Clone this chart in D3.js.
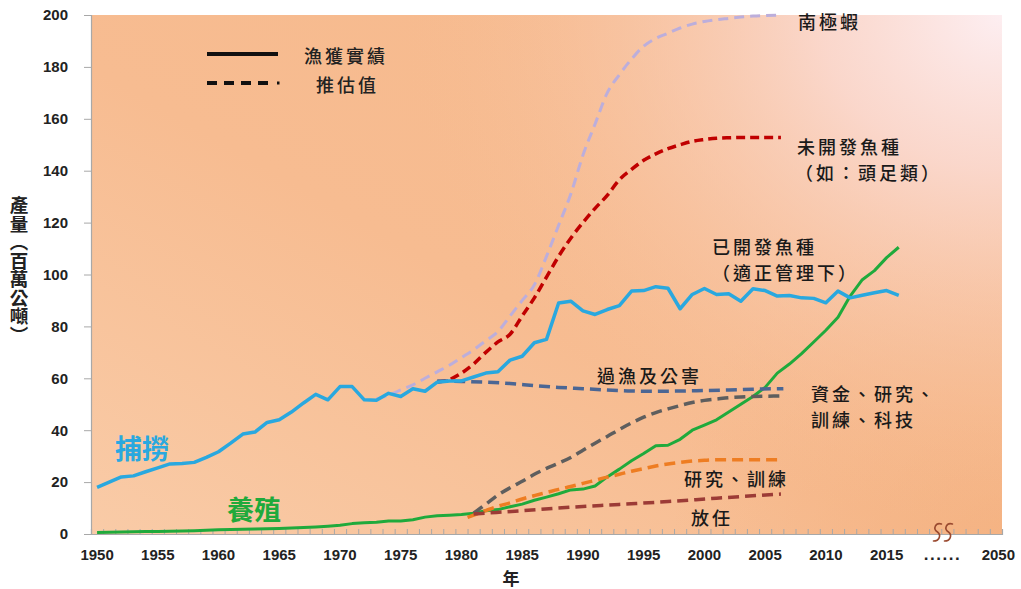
<!DOCTYPE html>
<html><head><meta charset="utf-8">
<script src="https://cdn.jsdelivr.net/npm/d3@7"></script>
<style>
html,body{margin:0;padding:0;background:#fff;}
svg{display:block;}
</style></head>
<body>
<svg id="c" width="1021" height="589"></svg>
<script>
// ---------- data ----------
const years = d3.range(1950, 2017);
const captureVals = [18,20,22,22.4,24,25.5,27,27.2,27.6,29.5,
  31.7,35,38.5,39.3,43,44,47,50.5,53.8,51.7,
  56.8,56.8,51.7,51.5,54.2,53,56,55,58.5,59,
  59,60.5,62,62.5,67,68.5,73.7,75,89,89.7,
  86,84.6,86.5,88,93.6,93.8,95.3,94.7,86.8,92.3,
  94.6,92.3,92.6,89.7,94.5,93.8,91.7,91.9,91,90.8,
  89.1,93.6,91,92,93,93.8,92];
const aquaVals = [0.6,0.7,0.8,0.9,1.0,1.0,1.1,1.2,1.3,1.4,
  1.6,1.7,1.8,1.9,2.0,2.1,2.3,2.5,2.7,3.0,
  3.4,4.0,4.3,4.5,5.0,5.0,5.5,6.5,7.0,7.2,
  7.5,8.0,9.0,9.4,10.5,11.5,13.0,14.2,15.5,17.0,
  17.3,18.5,22.0,25.0,28.2,31.0,34.0,34.2,36.5,40.0,
  42.0,44.0,47.0,50.0,53.0,56.5,62.0,65.5,69.5,74.0,
  78.5,83.5,91.7,98.0,101.5,106.5,110.5];

const krillYears = [1973,1974,1975,1976,1977,1978,1979,1980,1981,1982,1983,1984,1985,1986,1987,1988,1989,1990,1991,1992,1993,1994,1995,1996,1997,1998,1999,2000,2001,2002,2003,2004,2005,2006.3];
const krillVals  = [52,53.5,55.5,57.5,60,62.5,65,68,71,74.5,78,84,90,96,107,119,131,146,158,170,177,183,188,191,193,195,196.5,197.5,198.2,198.7,199.2,199.6,199.8,200];

const undevYears = [1978,1979,1980,1981,1982,1983,1984,1985,1986,1987,1988,1989,1990,1991,1992,1993,1994,1995,1996,1997,1998,1999,2000,2001,2002,2003,2004,2005,2006.3];
const undevVals  = [58.5,59.5,62,65.5,70,74,77,84,91,99,107,114,120,125.5,130.5,136.5,140.5,144,146.5,148.5,150,151.3,152,152.5,152.7,152.8,152.8,152.8,152.8];

const overYears = [1978,1980,1982,1984,1986,1988,1990,1992,1994,1996,1998,2000,2002,2004,2006.5];
const overVals  = [59,58.8,58.5,58,57.2,56.5,56,55.5,55.1,55,55.1,55.3,55.5,55.8,56];

const investYears = [1981,1982,1983,1984,1985,1986,1987,1988,1989,1990,1991,1992,1993,1994,1995,1996,1997,1998,1999,2000,2001,2002,2003,2004,2005,2006.3];
const investVals  = [8,11.5,15,17.8,20.3,23,25.3,27.3,29.5,32.3,35,37.6,40.3,42.8,45,46.8,48.2,49.5,50.7,51.5,52,52.5,52.8,53,53.1,53.2];

const researchYears = [1980.5,1982,1983,1984,1985,1986,1987,1988,1989,1990,1991,1992,1993,1994,1995,1996,1997,1998,1999,2000,2001,2002,2003,2004,2005,2006.3];
const researchVals  = [6.4,9,10.7,12,13.5,14.8,16,17.2,18.3,19.5,20.7,21.9,23,24.2,25.2,26.2,27,27.6,28.1,28.4,28.6,28.6,28.6,28.6,28.6,28.6];

const laissezYears = [1981,1985,1989,1993,1997,2001,2006.3];
const laissezVals  = [7.7,9.0,10.3,11.4,12.5,13.8,15.4];

const xTickYears = d3.range(1950, 2016, 5);
const yTicks = d3.range(0, 201, 20);
const extraXLabels = [{pos: 2019.6, text: "......"}, {pos: 2024.2, text: "2050"}];
const breakPos = 2019.6;

// ---------- layout ----------
const svg = d3.select("#c");
const L = 91, R = 1002, T = 15, B = 534;
const x = d3.scaleLinear().domain([1949.5, 2024.5]).range([L, R]);
const y = d3.scaleLinear().domain([0, 200]).range([B, T]);

const defs = svg.append("defs");
const lg = defs.append("linearGradient").attr("id","bgL").attr("x1","0").attr("y1","1").attr("x2","1").attr("y2","0");
lg.append("stop").attr("offset","0").attr("stop-color","#f9cba7");
lg.append("stop").attr("offset","0.45").attr("stop-color","#f7bc91");
lg.append("stop").attr("offset","1").attr("stop-color","#f6b98c");
const rg2 = defs.append("radialGradient").attr("id","bgR2").attr("gradientUnits","userSpaceOnUse")
  .attr("cx", R).attr("cy", B).attr("r", 330);
rg2.append("stop").attr("offset","0").attr("stop-color","#f4b180").attr("stop-opacity",0.8);
rg2.append("stop").attr("offset","1").attr("stop-color","#f4b180").attr("stop-opacity",0);
const rg = defs.append("radialGradient").attr("id","bgR").attr("gradientUnits","userSpaceOnUse")
  .attr("cx", R).attr("cy", T).attr("r", 600)
  .attr("gradientTransform", `translate(${R},${T}) scale(1,0.85) translate(${-R},${-T})`);
rg.append("stop").attr("offset","0").attr("stop-color","#fdeef1").attr("stop-opacity",1);
rg.append("stop").attr("offset","0.3").attr("stop-color","#fbdcd6").attr("stop-opacity",0.85);
rg.append("stop").attr("offset","1").attr("stop-color","#f7bd93").attr("stop-opacity",0);

svg.append("rect").attr("x",L).attr("y",T).attr("width",R-L).attr("height",B-T).attr("fill","url(#bgL)");
svg.append("rect").attr("x",L).attr("y",T).attr("width",R-L).attr("height",B-T).attr("fill","url(#bgR2)");
svg.append("rect").attr("x",L).attr("y",T).attr("width",R-L).attr("height",B-T).attr("fill","url(#bgR)");

// axes
const numFont = "'Liberation Sans', Arial, sans-serif";
const cjk = "'Noto Sans CJK TC', 'Noto Sans CJK SC', sans-serif";

const yAxis = svg.append("g").attr("transform",`translate(${L},0)`)
  .call(d3.axisLeft(y).tickValues(yTicks).tickSize(7).tickPadding(16));
yAxis.select(".domain").attr("stroke","#a8a8a8").attr("stroke-width",1.2);
yAxis.selectAll(".tick line").attr("stroke","#a8a8a8");
yAxis.selectAll(".tick text").attr("font-family",numFont).attr("font-weight","bold").attr("font-size",15).attr("fill","#222");

const xAxis = svg.append("g").attr("transform",`translate(0,${B})`)
  .call(d3.axisBottom(x).tickValues(d3.range(1950.5, 2024.5, 1)).tickSize(-5).tickFormat(""));
xAxis.select(".domain").attr("stroke","#a8a8a8").attr("stroke-width",1.2);
xAxis.selectAll(".tick line").attr("stroke","#a8a8a8");

const xl = svg.append("g");
xl.selectAll("text.yr").data(xTickYears).join("text").attr("class","yr")
  .attr("x", d => x(d)).attr("y", B + 26).attr("text-anchor","middle")
  .attr("font-family",numFont).attr("font-weight","bold").attr("font-size",15).attr("fill","#222")
  .text(d => d);
xl.selectAll("text.ex").data(extraXLabels).join("text").attr("class","ex")
  .attr("x", d => x(d.pos)).attr("y", B + 26).attr("text-anchor","middle")
  .attr("font-family",numFont).attr("font-weight","bold").attr("font-size", d => d.text === "......" ? 17 : 15).attr("fill","#222")
  .attr("letter-spacing", d => d.text === "......" ? 1.5 : 0)
  .text(d => d.text);

// break symbol
const bx = x(breakPos);
const brk = svg.append("g").attr("fill","none").attr("stroke","#9a4a30").attr("stroke-width",1.6).attr("stroke-linecap","round");
[-5, 6].forEach(dx => {
  const cx0 = bx + dx;
  brk.append("path").attr("d",
    `M${cx0+4},${B-10} C${cx0-2},${B-12} ${cx0-5},${B-5} ${cx0},${B-2} C${cx0+4},${B+1} ${cx0+2},${B+7} ${cx0-4},${B+7}`);
});

// axis titles
svg.append("text").attr("x",19).attr("y",196)
  .attr("font-family",cjk).attr("font-weight","bold").attr("font-size",18.5).attr("fill","#222")
  .style("writing-mode","vertical-rl").style("text-orientation","upright")
  .text("產量（百萬公噸）");
svg.append("text").attr("x",511).attr("y",585).attr("text-anchor","middle")
  .attr("font-family",cjk).attr("font-weight","bold").attr("font-size",17).attr("fill","#222").text("年");

// lines
const line = d3.line().x(d => x(d[0])).y(d => y(d[1]));
const smooth = d3.line().x(d => x(d[0])).y(d => y(d[1])).curve(d3.curveMonotoneX);
const zip = (a,b) => a.map((v,i) => [v, b[i]]);

const dashed = [
  {yrs: krillYears, vals: krillVals, color: "#bcaedb", w: 3, dash: "10,6"},
  {yrs: undevYears, vals: undevVals, color: "#c00000", w: 3.5, dash: "9,5"},
  {yrs: overYears, vals: overVals, color: "#4b6694", w: 3.5, dash: "11,6"},
  {yrs: investYears, vals: investVals, color: "#5e5e5e", w: 3.5, dash: "11,6"},
  {yrs: researchYears, vals: researchVals, color: "#ee7d22", w: 3.5, dash: "11,6"},
  {yrs: laissezYears, vals: laissezVals, color: "#9c3b36", w: 3.5, dash: "11,6"}
];

svg.append("path").attr("d", line(zip(years, aquaVals))).attr("fill","none")
  .attr("stroke","#1faa3c").attr("stroke-width",3).attr("stroke-linejoin","round");
dashed.forEach(s => {
  svg.append("path").attr("d", smooth(zip(s.yrs, s.vals))).attr("fill","none")
    .attr("stroke", s.color).attr("stroke-width", s.w).attr("stroke-dasharray", s.dash);
});
svg.append("path").attr("d", line(zip(years, captureVals))).attr("fill","none")
  .attr("stroke","#29a8df").attr("stroke-width",3.5).attr("stroke-linejoin","round");

// legend
const lgG = svg.append("g");
lgG.append("line").attr("x1",207).attr("x2",278).attr("y1",54).attr("y2",54).attr("stroke","#111").attr("stroke-width",4);
lgG.append("line").attr("x1",207).attr("x2",273).attr("y1",83).attr("y2",83).attr("stroke","#111").attr("stroke-width",4).attr("stroke-dasharray","10,7");
lgG.append("rect").attr("x",277).attr("y",81.5).attr("width",2.5).attr("height",3).attr("fill","#111");
lgG.append("text").attr("x",304).attr("y",63).attr("font-family",cjk).attr("font-weight",500).attr("font-size",18).attr("letter-spacing",3).attr("fill","#222").text("漁獲實績");
lgG.append("text").attr("x",316).attr("y",92).attr("font-family",cjk).attr("font-weight",500).attr("font-size",18).attr("letter-spacing",3).attr("fill","#222").text("推估值");

// annotations
const notes = [
  {t:"南極蝦", x:798, y:29},
  {t:"未開發魚種", x:797, y:154},
  {t:"（如：頭足類）", x:795, y:180},
  {t:"已開發魚種", x:712, y:254},
  {t:"（適正管理下）", x:712, y:280},
  {t:"過漁及公害", x:597, y:383},
  {t:"資金、研究、", x:811, y:401},
  {t:"訓練、科技", x:811, y:427},
  {t:"研究、訓練", x:684, y:486},
  {t:"放任", x:691, y:525}
];
svg.append("g").selectAll("text").data(notes).join("text")
  .attr("x", d => d.x).attr("y", d => d.y)
  .attr("font-family",cjk).attr("font-weight",500).attr("font-size",18).attr("letter-spacing",3).attr("fill","#1a1a1a")
  .text(d => d.t);

svg.append("text").attr("x",115).attr("y",459).attr("font-family",cjk).attr("font-weight","bold")
  .attr("font-size",27).attr("fill","#29a8df").text("捕撈");
svg.append("text").attr("x",227).attr("y",520).attr("font-family",cjk).attr("font-weight","bold")
  .attr("font-size",27).attr("fill","#1faa3c").text("養殖");
</script>
</body></html>
